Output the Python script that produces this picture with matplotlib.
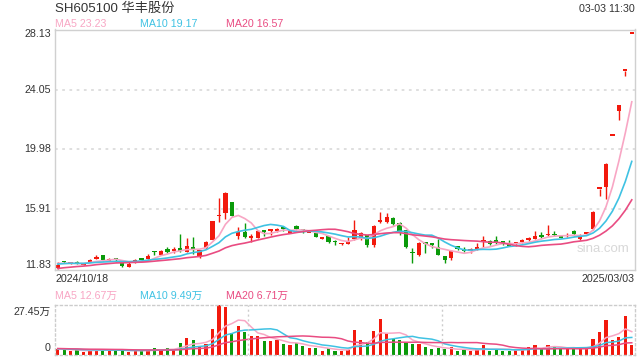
import numpy as np
import matplotlib
matplotlib.use("Agg")
import matplotlib.pyplot as plt
from matplotlib.transforms import blended_transform_factory

plt.rcParams["font.family"] = ["Liberation Sans", "Noto Sans CJK SC"]

TITLE = "SH605100 华丰股份"
TIMESTAMP = "03-03 11:30"
DATE_LABELS = ["2024/10/18", "2025/03/03"]
PRICE_TICKS = [11.83, 15.91, 19.98, 24.05, 28.13]
VOL_TICK_LABELS = ["27.45万", "0"]
VOL_MAX = 27.45
MA_PRICE_LABELS = ["MA5 23.23", "MA10 19.17", "MA20 16.57"]
MA_VOL_LABELS = ["MA5 12.67万", "MA10 9.49万", "MA20 6.71万"]
WATERMARK = "sina.com"

# daily candles, 2024-10-18 .. 2025-03-03 (90 sessions)
opens = [11.96, 12.36, 12.25, 12.27, 12.16, 12.34, 12.57, 12.80, 12.44, 12.50,
         12.45, 12.03, 12.30, 12.57, 12.55, 13.03, 12.84, 13.20, 13.09, 13.29,
         13.05, 13.34, 12.75, 13.32, 13.84, 15.43, 15.69, 16.40, 14.10, 14.35,
         13.98, 13.99, 14.44, 14.45, 14.47, 14.64, 14.32, 14.78, 14.50, 14.30,
         14.32, 13.93, 14.11, 13.70, 13.55, 13.59, 13.88, 13.88, 14.18, 13.52,
         15.08, 15.08, 15.31, 14.97, 14.52, 12.95, 12.82, 13.63, 13.52, 13.39,
         12.73, 12.59, 13.42, 13.24, 13.11, 13.17, 13.72, 13.76, 13.85, 13.67,
         13.58, 13.56, 13.69, 13.85, 13.92, 14.10, 14.15, 14.24, 14.12, 14.08,
         14.44, 13.92, 14.26, 14.60, 17.29, 17.40, 20.92, 22.62, 25.31, 27.84]
highs = [12.32, 12.42, 12.37, 12.41, 12.25, 12.57, 12.80, 12.82, 12.62, 12.57,
         12.48, 12.32, 12.57, 12.64, 12.86, 13.09, 13.16, 13.38, 13.38, 14.22,
         13.95, 14.06, 13.18, 13.78, 15.15, 16.66, 17.10, 16.42, 14.69, 14.96,
         14.22, 14.51, 14.53, 14.60, 14.65, 14.74, 14.36, 14.85, 14.60, 14.34,
         14.36, 14.02, 14.13, 13.80, 13.66, 14.01, 15.20, 14.41, 14.18, 14.83,
         15.74, 15.65, 15.38, 15.08, 14.52, 13.27, 13.70, 13.72, 13.61, 13.88,
         12.75, 13.16, 13.44, 13.35, 13.29, 13.62, 14.10, 13.85, 14.08, 13.78,
         13.81, 13.66, 13.92, 14.01, 14.44, 14.37, 14.82, 14.44, 14.15, 14.33,
         14.53, 14.26, 14.37, 15.80, 17.29, 19.06, 20.92, 23.01, 25.31, 27.84]
lows = [11.88, 12.25, 12.20, 12.19, 12.12, 12.31, 12.52, 12.39, 12.39, 12.37,
        11.98, 12.01, 12.28, 12.43, 12.52, 12.82, 12.80, 12.95, 12.93, 13.04,
        13.02, 12.89, 12.62, 13.20, 13.80, 15.08, 15.28, 15.45, 13.92, 14.00,
        13.72, 13.97, 14.10, 14.17, 14.40, 14.47, 14.30, 14.51, 14.31, 14.28,
        14.04, 13.92, 13.65, 13.50, 13.48, 13.54, 13.80, 13.80, 13.34, 13.38,
        15.01, 15.01, 14.86, 14.18, 13.27, 12.25, 12.78, 12.98, 13.27, 12.82,
        12.25, 12.50, 13.13, 13.01, 12.92, 13.13, 13.39, 13.46, 13.58, 13.46,
        13.40, 13.45, 13.62, 13.76, 13.87, 13.96, 14.10, 14.08, 13.96, 14.03,
        14.10, 13.86, 14.19, 14.48, 16.79, 16.59, 20.92, 22.01, 24.99, 27.84]
closes = [12.12, 12.31, 12.28, 12.24, 12.21, 12.48, 12.68, 12.48, 12.53, 12.47,
          12.05, 12.23, 12.48, 12.49, 12.75, 13.01, 13.11, 13.03, 13.22, 13.12,
          13.43, 13.16, 13.13, 13.72, 15.09, 15.50, 17.05, 15.47, 14.40, 14.04,
          14.02, 14.47, 14.40, 14.47, 14.60, 14.61, 14.34, 14.56, 14.48, 14.32,
          14.06, 13.96, 13.72, 13.67, 13.58, 13.72, 14.52, 14.34, 13.52, 14.79,
          15.12, 15.38, 14.90, 14.47, 13.34, 12.92, 13.61, 13.59, 13.49, 12.82,
          12.48, 13.11, 13.19, 13.06, 13.14, 13.35, 13.76, 13.53, 13.69, 13.64,
          13.42, 13.59, 13.85, 13.88, 14.12, 14.07, 14.26, 14.15, 13.99, 14.19,
          14.21, 14.12, 14.29, 15.72, 17.29, 19.02, 20.92, 23.01, 25.31, 27.84]
# volume, 万手
volumes = [2.8, 2.6, 1.9, 2.4, 1.3, 2.8, 3.0, 2.4, 2.4, 2.4,
           2.6, 1.5, 1.9, 2.2, 2.4, 3.4, 2.6, 3.4, 2.8, 6.2,
           9.0, 7.8, 4.7, 6.0, 14.0, 27.45, 26.5, 11.8, 15.7, 12.3,
           10.1, 10.1, 7.3, 7.3, 7.8, 5.6, 5.0, 6.5, 4.5, 3.4,
           3.4, 2.2, 3.7, 2.2, 1.7, 2.6, 13.4, 7.8, 6.7, 12.9,
           19.6, 11.8, 8.4, 7.8, 6.7, 5.6, 5.6, 3.9, 2.8, 3.4,
           2.8, 3.9, 1.7, 2.8, 1.7, 2.8, 5.0, 2.2, 2.8, 2.2,
           2.2, 2.6, 2.6, 4.2, 5.4, 2.8, 5.4, 4.2, 3.4, 2.8,
           3.4, 3.4, 3.4, 8.5, 12.5, 19.0, 8.3, 9.5, 21.6, 5.0]

# sessions before the window, estimated from where the MA lines start
pre_closes = [11.3, 11.5, 11.4, 11.6, 11.7, 11.5, 11.7, 11.8, 11.7, 11.8,
              12.0, 12.1, 12.25, 12.2, 12.21, 12.3, 12.25, 12.32, 12.25]
pre_volumes = [4.2, 3.8, 3.1, 3.6, 4.0, 3.3, 2.9, 3.5, 3.2, 3.0,
               3.8, 3.4, 2.9, 3.1, 3.6, 3.3, 2.8, 3.0, 3.2]

RED = "#f2190d"
GREEN = "#0a9a0a"
MA_COLORS = ["#f8a6c4", "#3fc2e3", "#e94c82"]
TEXT = "#333333"
W, H = 640, 360


def moving_avg(pre, vals, n):
    s = np.array(pre + vals, dtype=float)
    return np.convolve(s, np.ones(n) / n, mode="valid")[-len(vals):]


def px(x, y):
    return x / W, 1 - y / H


fig = plt.figure(figsize=(6.4, 3.6), dpi=100)
ax = fig.add_axes([54.5 / W, 1 - 269.5 / H, 580.5 / W, 240 / H])
axv = fig.add_axes([54.5 / W, 1 - 354.5 / H, 580.5 / W, 49.5 / H])

x = np.arange(len(closes))
o, h, l, c = map(np.array, (opens, highs, lows, closes))
colors = [RED if cc >= oo else GREEN for oo, cc in zip(o, c)]

# price panel
ax.vlines(x, l, h, colors=colors, lw=1)
ax.bar(x, np.maximum(np.abs(c - o), 0.11), bottom=np.minimum(o, c),
       width=0.66, color=colors, linewidth=0)
for n, col in zip([5, 10, 20], MA_COLORS):
    ax.plot(x, moving_avg(pre_closes, closes, n), color=col, lw=1.2)
for v in PRICE_TICKS[1:-1]:
    ax.axhline(v, color="#dcdcdc", lw=1.3, ls=(0, (1.5, 2.5)), zorder=0)
ax.set_xlim(-0.5, len(closes) - 0.5)
ax.set_ylim(PRICE_TICKS[0], PRICE_TICKS[-1])
ax.set_xticks([])
ax.set_yticks([])
for s in ax.spines.values():
    s.set_color("#d0d0d0")
    s.set_linewidth(1)
tr = blended_transform_factory(ax.transAxes, ax.transData)
for i, v in enumerate(PRICE_TICKS):
    va = "bottom" if i == 0 else ("top" if i == len(PRICE_TICKS) - 1 else "center")
    ax.text(-0.006, v, f"{v:.2f}", transform=tr, ha="right", va=va,
            fontsize=7.7, color=TEXT)
ax.text(0.945, 0.085, WATERMARK, transform=ax.transAxes, ha="center",
        va="center", fontsize=9.5, color="#d8d8d8")

# volume panel
axv.bar(x, volumes, width=0.5, color=colors, linewidth=0)
for n, col in zip([5, 10, 20], MA_COLORS):
    axv.plot(x, moving_avg(pre_volumes, volumes, n), color=col, lw=1.1)
axv.set_xlim(-0.5, len(closes) - 0.5)
axv.set_ylim(0, VOL_MAX)
axv.set_xticks([])
axv.set_yticks([])
for s in axv.spines.values():
    s.set_color("#cccccc")
    s.set_linestyle((0, (1.5, 2)))
    s.set_linewidth(1)
for xv in [len(closes) / 3 - 0.5, 2 * len(closes) / 3 - 0.5]:
    axv.axvline(xv, color="#cccccc", lw=1, ls=(0, (1.5, 2)))

# header and labels
fig.text(*px(55, 8.5), TITLE, ha="left", va="center", fontsize=9.5, color=TEXT)
fig.text(*px(635, 8.5), TIMESTAMP, ha="right", va="center", fontsize=7.7, color=TEXT)
for lab, col, xp in zip(MA_PRICE_LABELS, MA_COLORS, [55, 140, 226]):
    fig.text(*px(xp, 24), lab, ha="left", va="center", fontsize=7.7, color=col)
fig.text(*px(55, 278.5), DATE_LABELS[0], ha="left", va="center", fontsize=7.7, color=TEXT)
fig.text(*px(635, 278.5), DATE_LABELS[1], ha="right", va="center", fontsize=7.7, color=TEXT)
for lab, col, xp in zip(MA_VOL_LABELS, MA_COLORS, [55, 140, 226]):
    fig.text(*px(xp, 295.5), lab, ha="left", va="center", fontsize=7.7, color=col)
fig.text(*px(50.5, 311.5), VOL_TICK_LABELS[0], ha="right", va="center", fontsize=7.7, color=TEXT)
fig.text(*px(50.5, 348), VOL_TICK_LABELS[1], ha="right", va="center", fontsize=7.7, color=TEXT)

fig.savefig("out.png", dpi=100)
